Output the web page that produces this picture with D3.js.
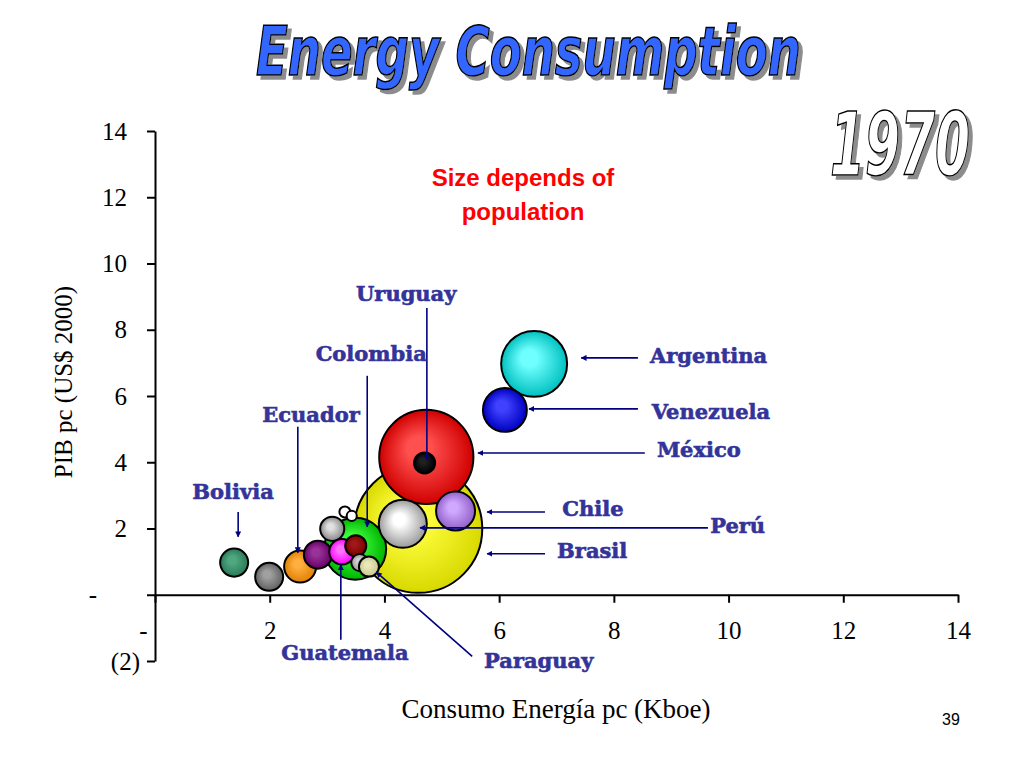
<!DOCTYPE html>
<html>
<head>
<meta charset="utf-8">
<script src="https://cdn.jsdelivr.net/npm/d3@7"></script>
<style>
  body { margin: 0; background: #fff; }
  svg { display: block; }
</style>
</head>
<body>
<div id="chart"></div>
<script>
// datos 1970: consumo de energía pc (Kboe), PIB pc (miles US$ 2000), población (millones)
const countries = ['Brasil', 'México', 'Argentina', 'Colombia', 'Perú', 'Venezuela', 'Chile', 'Ecuador',
    'Bolivia', 'Otro A', 'Otro B', 'Otro C', 'Guatemala', 'Uruguay', 'Otro D', 'Otro E', 'Paraguay', 'Otro F', 'Otro G'];
const energy = [4.59, 4.73, 6.61, 3.49, 4.32, 6.10, 5.24, 2.53, 1.38, 1.99, 2.84, 3.09, 3.26, 4.70, 3.50, 3.57, 3.73, 3.31, 3.43];
const gdp = [1.99, 4.16, 6.97, 1.39, 2.14, 5.58, 2.53, 0.85, 0.97, 0.54, 1.21, 1.99, 1.30, 3.98, 1.48, 0.97, 0.85, 2.50, 2.38];
const population = [96, 52, 25.5, 22.5, 13.5, 11.3, 8.9, 6.0, 4.6, 4.6, 4.6, 3.4, 3.8, 2.6, 2.6, 1.7, 2.35, 0.7, 0.6];

const xTicks = [0, 2, 4, 6, 8, 10, 12, 14];
const yTicks = [-2, 0, 2, 4, 6, 8, 10, 12, 14];

// colores: [borde, centro]
const bubbleColors = [
    ['#d8d800', '#ffff40'], ['#d00000', '#ff5050'], ['#00c0c0', '#70ffff'], ['#00b400', '#40ff40'],
    ['#9a9a9a', '#ffffff'], ['#0000c0', '#4040ff'], ['#9060c8', '#d0a8ff'], ['#e08000', '#ffae40'],
    ['#2a7a58', '#50a880'], ['#606060', '#a0a0a0'], ['#660066', '#993399'], ['#888888', '#e0e0e0'],
    ['#ff00ff', '#ff70ff'], ['#000000', '#202020'], ['#7a0000', '#a01818'], ['#9a9a9a', '#d0d0d0'],
    ['#c8c890', '#e8e8b8'], ['#ffffff', '#ffffff'], ['#ffffff', '#ffffff']
];

// etiquetas: posición del texto y flecha, en unidades de datos
const notes = [
    { name: 'Argentina', tx: 8.63, ty: 7.0, anchor: 'start', from: [8.42, 7.15], to: [7.43, 7.15] },
    { name: 'Venezuela', tx: 8.66, ty: 5.31, anchor: 'start', from: [8.42, 5.61], to: [6.52, 5.61] },
    { name: 'México', tx: 8.75, ty: 4.16, anchor: 'start', from: [8.54, 4.28], to: [5.63, 4.28] },
    { name: 'Chile', tx: 7.10, ty: 2.38, anchor: 'start', from: [6.80, 2.50], to: [5.79, 2.50] },
    { name: 'Perú', tx: 9.68, ty: 1.87, anchor: 'start', from: [9.64, 2.02], to: [4.62, 2.02] },
    { name: 'Brasil', tx: 7.01, ty: 1.12, anchor: 'start', from: [6.80, 1.24], to: [5.79, 1.24] },
    { name: 'Uruguay', tx: 4.38, ty: 8.87, anchor: 'middle', from: [4.74, 8.66], to: [4.74, 4.07] },
    { name: 'Colombia', tx: 3.77, ty: 7.06, anchor: 'middle', from: [3.70, 6.61], to: [3.70, 2.05] },
    { name: 'Ecuador', tx: 2.72, ty: 5.22, anchor: 'middle', from: [2.49, 5.07], to: [2.49, 1.27] },
    { name: 'Bolivia', tx: 1.36, ty: 2.90, anchor: 'middle', from: [1.45, 2.50], to: [1.45, 1.75] },
    { name: 'Guatemala', tx: 3.31, ty: -1.96, anchor: 'middle', from: [3.24, -1.36], to: [3.24, 0.91] },
    { name: 'Paraguay', tx: 6.69, ty: -2.20, anchor: 'middle', from: [5.53, -1.86], to: [3.86, 0.68] }
];

const svg = d3.select('#chart').append('svg')
    .attr('width', 1024)
    .attr('height', 768)
    .style('background', '#fff');

const x = d3.scaleLinear().domain([0, 14]).range([155, 958]);
const y = d3.scaleLinear().domain([-2, 14]).range([661, 131]);
const r = d3.scaleSqrt().domain([0, 96]).range([0, 64]);

const defs = svg.append('defs');

// flecha
defs.append('marker')
    .attr('id', 'arrow')
    .attr('viewBox', '0 0 10 10')
    .attr('refX', 9)
    .attr('refY', 5)
    .attr('markerWidth', 6)
    .attr('markerHeight', 6)
    .attr('markerUnits', 'userSpaceOnUse')
    .attr('orient', 'auto')
    .append('path')
    .attr('d', 'M0,0L10,5L0,10z')
    .attr('fill', '#000080');

// sombra del título
const shadow = defs.append('filter')
    .attr('id', 'shadow')
    .attr('x', '-5%').attr('y', '-10%')
    .attr('width', '115%').attr('height', '130%');
shadow.append('feOffset').attr('in', 'SourceAlpha').attr('dx', 4).attr('dy', 4).attr('result', 'off');
shadow.append('feFlood').attr('flood-color', '#8c8c8c');
shadow.append('feComposite').attr('in2', 'off').attr('operator', 'in').attr('result', 'sh');
const merge = shadow.append('feMerge');
merge.append('feMergeNode').attr('in', 'sh');
merge.append('feMergeNode').attr('in', 'SourceGraphic');

// degradados para las burbujas
countries.forEach((c, i) => {
    const g = defs.append('radialGradient')
        .attr('id', 'grad' + i)
        .attr('cx', '50%').attr('cy', '50%').attr('r', '50%')
        .attr('fx', '40%').attr('fy', '38%');
    g.append('stop').attr('offset', '0%').attr('stop-color', bubbleColors[i][1]);
    g.append('stop').attr('offset', '25%').attr('stop-color', bubbleColors[i][1]);
    g.append('stop').attr('offset', '100%').attr('stop-color', bubbleColors[i][0]);
});

// título
function outlinedText (txt, px, py, size, len, fill) {
    svg.append('text')
        .attr('x', px).attr('y', py)
        .attr('textLength', len).attr('lengthAdjust', 'spacingAndGlyphs')
        .attr('filter', 'url(#shadow)')
        .style('font', `italic bold ${size}px "Liberation Sans Narrow", "DejaVu Sans Condensed", sans-serif`)
        .style('fill', fill)
        .style('stroke', '#000')
        .style('stroke-width', 1.5)
        .text(txt);
}
outlinedText('Energy Consumption', 256, 75, 68, 545, '#3366ff');
outlinedText('1970', 830, 175, 88, 140, '#ffffff');

// nota en rojo
svg.append('text')
    .attr('x', 523).attr('y', 186)
    .attr('text-anchor', 'middle')
    .style('font', 'bold 24px "Liberation Sans", Arial, sans-serif')
    .style('fill', '#ff0000')
    .text('Size depends of');
svg.append('text')
    .attr('x', 523).attr('y', 220)
    .attr('text-anchor', 'middle')
    .style('font', 'bold 24px "Liberation Sans", Arial, sans-serif')
    .style('fill', '#ff0000')
    .text('population');

// ejes
const fmt = d => d === 0 ? '-' : d < 0 ? '(' + Math.abs(d) + ')' : d;

const yAxis = svg.append('g')
    .attr('transform', `translate(${x(0)},0)`)
    .call(d3.axisLeft(y).tickValues(yTicks).tickFormat(fmt).tickSize(8).tickSizeOuter(0).tickPadding(20));
yAxis.selectAll('.tick text')
    .attr('dx', d => d === 0 ? -30 : d < 0 ? 13 : 0);

const xAxis = svg.append('g')
    .attr('transform', `translate(0,${y(0)})`)
    .call(d3.axisBottom(x).tickValues(xTicks).tickFormat(fmt).tickSize(8).tickSizeOuter(0).tickPadding(18));
xAxis.selectAll('.tick text')
    .attr('dx', d => d === 0 ? -12 : 0);

svg.selectAll('.domain, .tick line')
    .attr('stroke', '#000')
    .attr('stroke-width', 2);
svg.selectAll('.tick text')
    .style('font', '25px "Liberation Serif", "Times New Roman", serif')
    .style('fill', '#000');

svg.append('text')
    .attr('transform', 'translate(72,382) rotate(-90)')
    .attr('text-anchor', 'middle')
    .style('font', '25px "Liberation Serif", "Times New Roman", serif')
    .text('PIB pc (US$ 2000)');

svg.append('text')
    .attr('x', 556).attr('y', 718)
    .attr('text-anchor', 'middle')
    .style('font', '27px "Liberation Serif", "Times New Roman", serif')
    .text('Consumo Energía pc (Kboe)');

svg.append('text')
    .attr('x', 951).attr('y', 725)
    .attr('text-anchor', 'middle')
    .style('font', '16px "Liberation Sans", Arial, sans-serif')
    .text('39');

// burbujas
svg.append('g')
    .selectAll('circle')
    .data(countries)
    .join('circle')
    .attr('cx', (d, i) => x(energy[i]))
    .attr('cy', (d, i) => y(gdp[i]))
    .attr('r', (d, i) => r(population[i]))
    .attr('fill', (d, i) => `url(#grad${i})`)
    .attr('stroke', '#000')
    .attr('stroke-width', 2);

// flechas y nombres
const noteG = svg.append('g');
noteG.selectAll('line')
    .data(notes)
    .join('line')
    .attr('x1', d => x(d.from[0]))
    .attr('y1', d => y(d.from[1]))
    .attr('x2', d => x(d.to[0]))
    .attr('y2', d => y(d.to[1]))
    .attr('stroke', '#000080')
    .attr('stroke-width', 1.6)
    .attr('marker-end', 'url(#arrow)');

noteG.selectAll('text')
    .data(notes)
    .join('text')
    .attr('x', d => x(d.tx))
    .attr('y', d => y(d.ty))
    .attr('text-anchor', d => d.anchor)
    .style('font', 'bold 21px "DejaVu Serif", serif')
    .style('fill', '#333399')
    .style('stroke', '#333399')
    .style('stroke-width', 0.6)
    .text(d => d.name);
</script>
</body>
</html>
